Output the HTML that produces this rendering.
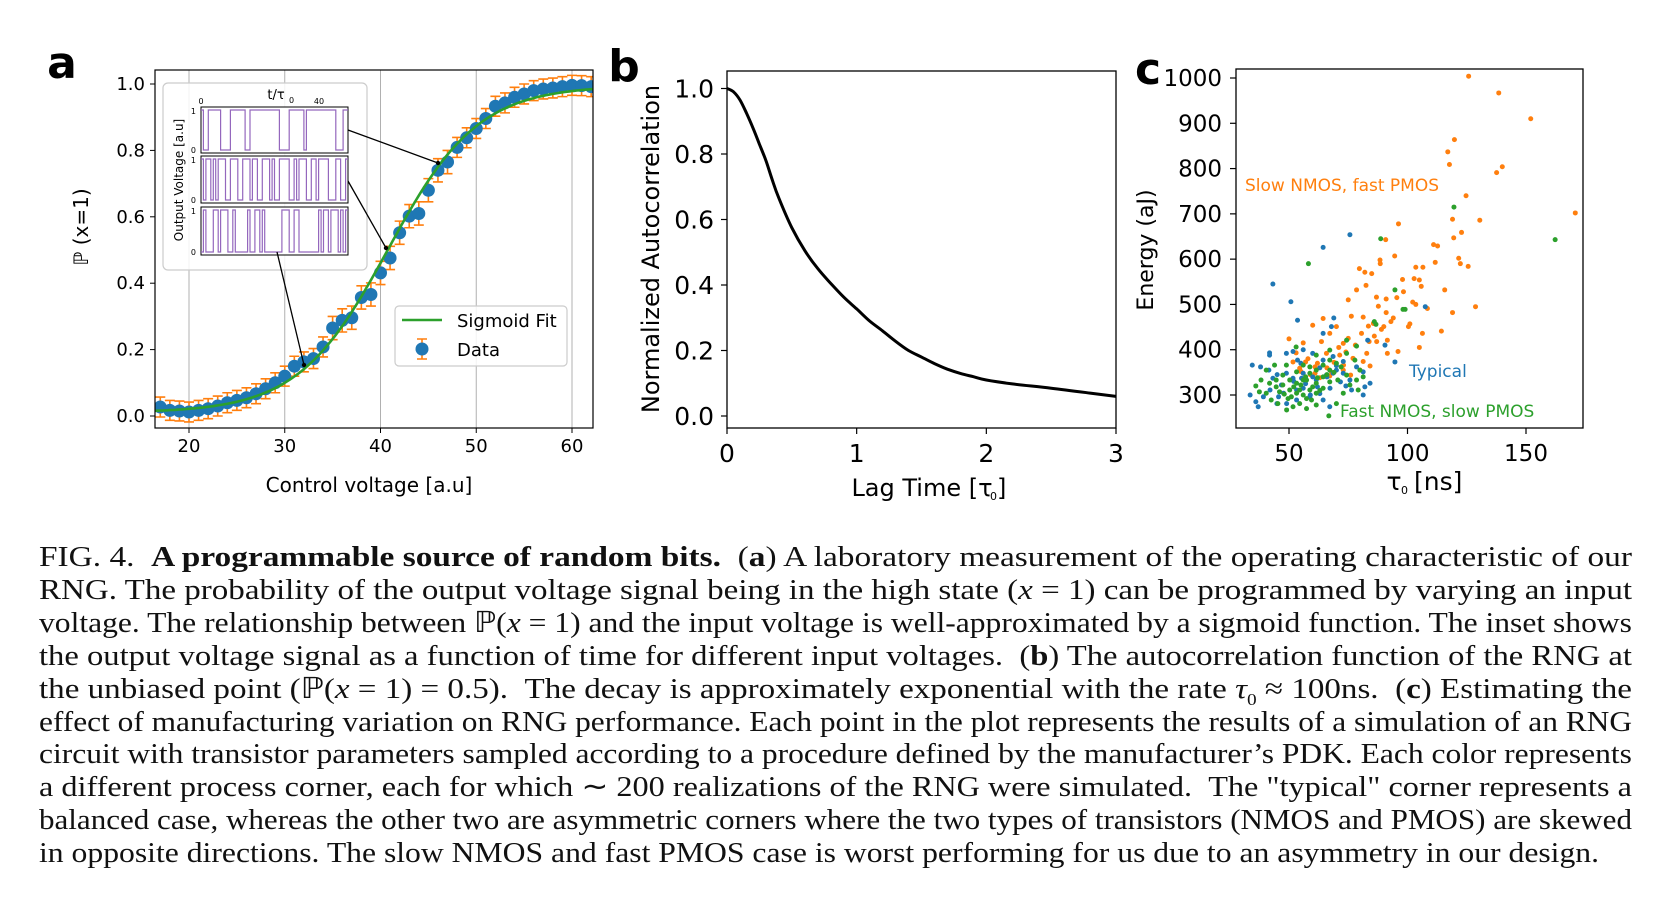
<!DOCTYPE html>
<html><head><meta charset="utf-8">
<style>
html,body{margin:0;padding:0;background:#fff;}
#wrap{position:relative;width:1664px;height:898px;overflow:hidden;background:#fff;}
svg text{font-family:"DejaVu Sans","Liberation Sans",sans-serif;}
.cap{position:absolute;left:39px;font-family:"Liberation Serif",serif;font-size:29px;color:#111;white-space:nowrap;line-height:33px;transform-origin:0 0;}
</style></head>
<body>
<div id="wrap">
<svg id="fig" width="1664" height="898" viewBox="0 0 1664 898" xmlns="http://www.w3.org/2000/svg"></svg>
<div id="caption"></div>
</div>
<script>
// ---------- Panel a data ----------
const aX = [17,18,19,20,21,22,23,24,25,26,27,28,29,30,31,32,33,34,35,36,37,38,39,40,41,42,43,44,45,46,47,48,49,50,51,52,53,54,55,56,57,58,59,60,61,62];
const aY = [0.027,0.017,0.015,0.012,0.017,0.022,0.03,0.04,0.047,0.055,0.067,0.082,0.10,0.12,0.15,0.163,0.173,0.208,0.265,0.288,0.296,0.357,0.366,0.431,0.476,0.552,0.602,0.61,0.68,0.74,0.765,0.809,0.838,0.866,0.896,0.933,0.943,0.96,0.97,0.98,0.985,0.988,0.992,0.996,0.995,0.992];
const aErr = [0.03,0.03,0.03,0.03,0.03,0.03,0.03,0.03,0.03,0.03,0.03,0.03,0.03,0.03,0.03,0.03,0.03,0.03,0.035,0.035,0.035,0.035,0.035,0.035,0.035,0.035,0.035,0.035,0.035,0.035,0.035,0.03,0.03,0.03,0.03,0.03,0.03,0.03,0.03,0.03,0.03,0.03,0.03,0.03,0.03,0.03];
const fitParams = [40.8, 4.7, 0.01, 0.995]; // center, scale, low, high
const aXTicks = [20,30,40,50,60];
const aYTicks = [0.0,0.2,0.4,0.6,0.8,1.0];
const insetBits1 = "100111110000111111001111111111110000111111011111111111100011";
const insetBits2 = "101101011100111001110110011101001111001011100110111100011001";
const insetBits3 = "010001101110010000010011010000000111001100000000101101110101";
// ---------- Panel b data ----------
const bT = [0,0.05,0.1,0.15,0.2,0.25,0.3,0.35,0.4,0.5,0.6,0.7,0.8,0.9,1.0,1.1,1.2,1.3,1.4,1.5,1.6,1.7,1.8,1.9,2.0,2.2,2.5,2.8,3.0];
const bR = [1.0,0.99,0.965,0.925,0.88,0.83,0.78,0.72,0.665,0.575,0.505,0.45,0.405,0.363,0.327,0.29,0.26,0.228,0.2,0.18,0.16,0.143,0.13,0.12,0.11,0.098,0.085,0.07,0.06];
const bXTicks = [0,1,2,3];
const bYTicks = [0.0,0.2,0.4,0.6,0.8,1.0];
// ---------- Panel c data ----------
const orangeTau = [125.8,138.5,152,119.8,117,117.7,140,137.6,124.7,170.8,130.5,119,96.2,122.8,111,112.7,90.8,119.5,94.6,88.4,88.5,103.5,106.5,111.7,121.6,122.3,125.6,79.7,82,84.9,102.8,105,105.8,115.7,97.9,78.5,82.5,75,86.9,91,95.5,98.3,102.2,108.4,128.7,119,103.5,87.7,91,94,76.3,81.3,85.6,101,100.4,106.3,114.3,83.5,90,80.6,83.8,87,91.5,105,91.5,96,70,64.4,60,67.2,63.7,72.9,56,50,53,57,61,72.9,80,76,67.2,61,54.5,51.7,65.8,71.4,77,81.3,84.2,82.8,58,62,66,69,73,55,59,63,68,74,78,86,89,93,71,75];
const orangeE = [1004,967,910,864,837,809,804,791,740,702,686,688,678,659,632,629,643,647,607,598,590,582,582,593,602,590,584,579,571,568,557,554,540,532,555,532,542,510,516,512,515,528,505,491,495,482,500,496,482,470,474,472,458,457,451,436,441,452,451,436,418,418,421,405,392,396,451,469,454,436,418,414,415,424,393,373,362,355,355,344,342,348,359,373,392,388,381,374,364,392,380,370,360,372,366,352,345,338,350,395,410,430,445,462,405,425];
const blueTau = [75.7,64.4,43.2,50.8,53.6,107.5,68.9,67.9,64.4,83.2,90.5,41.8,94.7,34.5,38,41.5,41.8,33.6,36,37,39.2,42,45.6,49,53.2,48.9,51.7,56,60,64.4,68.6,72.9,78.5,81.3,84.2,82,81.3,71.7,67.3,63,58.8,64.4,60,56,51.7,46.8,43.2,68.6,72.9,75.7,56,53.2,47.7,44.9,61.5,65.8,70,76.4,67.2,55.3,48.9,53.6,57,62,66,59,52,45,70,74,63,55];
const blueE = [654,626,545,506,465,495,470,451,436,421,410,393,373,366,362,355,388,300,285,274,296,311,296,281,289,392,396,400,392,377,385,374,362,351,326,318,300,329,315,303,296,289,340,348,337,322,337,348,348,333,315,311,304,281,333,344,355,311,274,337,348,377,325,318,340,300,330,345,365,320,360,370];
const greenTau = [119.6,88.7,162.3,58.2,94.7,98.1,99,86,86.7,78.5,74.3,67.2,61.5,53,48.9,43.9,40.4,38.2,36,37.5,40.4,42.5,45.3,49,51.7,54.5,57.4,61.5,66.8,70,72.9,75.7,79.2,81.3,79.9,77.8,74.3,70,67.2,64.4,61.5,58.8,56,53.2,50.3,47.4,44.6,47.4,50.3,53.2,56,58.8,61.5,64.4,67.2,58.8,56,53.2,54.5,57.4,46,49.6,59.5,67.2,70.6,74.3,78.5,44.6,41.8,57.4,61.5,64.4,52,55,60,63,48,51,57,62,66,69,72];
const greenE = [715,645,643,590,532,489,489,462,456,408,421,399,388,406,366,366,355,333,320,307,304,289,281,267,274,281,270,278,254,281,304,322,311,340,355,377,392,370,355,340,326,311,300,304,311,322,333,344,333,326,333,348,355,366,377,362,366,351,311,292,307,292,289,329,333,344,333,318,326,333,304,315,318,322,318,310,302,296,340,338,345,350,362];
const cXTicks = [50,100,150];
const cYTicks = [300,400,500,600,700,800,900,1000];

const NS = "http://www.w3.org/2000/svg";
const svg = document.getElementById('fig');
function mk(tag, attrs, parent){
  const e = document.createElementNS(NS, tag);
  for (const k in attrs) e.setAttribute(k, attrs[k]);
  (parent||svg).appendChild(e);
  return e;
}
function txt(x,y,s,size,anchor,extra){
  const t = mk('text', Object.assign({x:x,y:y,'font-size':size,'text-anchor':anchor||'middle',fill:'#000'}, extra||{}));
  t.textContent = s;
  return t;
}

// ================= Panel a =================
const A = {l:155,r:593,t:70,b:428};
const axA = v => 189 + (v-20)*(572-189)/40;
const ayA = v => 416 - v*332;
const gA = mk('g',{});


aXTicks.forEach(v=>{
  const gl = mk('line',{x1:axA(v),x2:axA(v),y1:A.t,y2:A.b,stroke:'#b0b0b0','stroke-width':1},gA);
  
  
  mk('line',{x1:axA(v),x2:axA(v),y1:A.b,y2:A.b+5,stroke:'#000','stroke-width':1},gA);
  const t = txt(axA(v),A.b+24,String(v),18,'middle');
  
  
});
aYTicks.forEach(v=>{
  mk('line',{x1:A.l-5,x2:A.l,y1:ayA(v),y2:ayA(v),stroke:'#000','stroke-width':1},gA);
  const t = txt(A.l-10,ayA(v)+6,v.toFixed(1),18,'end');
  
  
});
const defs = mk('defs',{});
const cp = mk('clipPath',{id:'clipA'},defs);
mk('rect',{x:A.l,y:A.t,width:A.r-A.l,height:A.b-A.t},cp);
const plotA = mk('g',{'clip-path':'url(#clipA)'},gA);
aX.forEach((x,i)=>{
  const px = axA(x), y1 = ayA(aY[i]-aErr[i]), y2 = ayA(aY[i]+aErr[i]);
  const eb = mk('path',{d:`M${px},${y1}V${y2}M${px-5},${y1}H${px+5}M${px-5},${y2}H${px+5}`,stroke:'#ff7f0e','stroke-width':1.6,fill:'none'},plotA);
  
  
});
aX.forEach((x,i)=>{
  const c = mk('circle',{cx:axA(x),cy:ayA(aY[i]),r:6.5,fill:'#1f77b4'},plotA);
  
  
});
let fd = '';
for (let x=15; x<=64; x+=0.25){
  const y = fitParams[2] + (fitParams[3]-fitParams[2])/(1+Math.exp(-(x-fitParams[0])/fitParams[1]));
  fd += (fd?'L':'M') + axA(x).toFixed(1)+','+ayA(y).toFixed(1);
}
const fitLine = mk('path',{d:fd,stroke:'#2ca02c','stroke-width':2.6,fill:'none'},plotA);


const frameA = mk('rect',{x:A.l,y:A.t,width:A.r-A.l,height:A.b-A.t,fill:'none',stroke:'#000','stroke-width':1.2},gA);



const inset = mk('g',{},gA);


mk('rect',{x:163,y:83,width:204,height:187,rx:5,fill:'#fff','fill-opacity':0.85,stroke:'#cccccc','stroke-width':1.2},inset);
const rows = [[110,150,insetBits1],[159,200,insetBits2],[210,252,insetBits3]];
const ix0 = 201, ix1 = 348;
rows.forEach(([top,bot,bits])=>{
  mk('rect',{x:ix0,y:top-3,width:ix1-ix0,height:bot-top+6,fill:'#fff',stroke:'#000','stroke-width':1},inset);
  let d='';
  const n = bits.length, w = (ix1-ix0)/n;
  for (let i=0;i<n;i++){
    const y = bits[i]==='1'?top:bot;
    d += (i===0?'M':'L')+(ix0+i*w).toFixed(1)+','+y+'L'+(ix0+(i+1)*w).toFixed(1)+','+y;
  }
  const sp = mk('path',{d:d,stroke:'#9467bd','stroke-width':1.2,fill:'none'},inset);
  
  
  txt(ix0-5,top+4,'1',8,'end');
  txt(ix0-5,bot+3,'0',8,'end');
});
txt(ix0,104,'0',8,'middle');
txt(319,104,'40',8,'middle');
const it = txt(276,99,'t/τ',13,'middle');


txt(289,103,'0',8,'start');
const iyl = txt(0,0,'Output Voltage [a.u]',12,'middle',{transform:'translate(183,180) rotate(-90)'});


[[348,130,438,163],[348,181,386,248],[277,252,304,365]].forEach(c=>{
  mk('line',{x1:c[0],y1:c[1],x2:c[2],y2:c[3],stroke:'#000','stroke-width':1.3},inset);
  mk('circle',{cx:c[2],cy:c[3],r:2.2,fill:'#000'},inset);
});
const leg = mk('g',{},gA);


mk('rect',{x:395,y:306,width:172,height:60,rx:4,fill:'#fff','fill-opacity':0.85,stroke:'#cccccc','stroke-width':1.2},leg);
mk('line',{x1:402,x2:442,y1:320,y2:320,stroke:'#2ca02c','stroke-width':2.6},leg);
const l1 = txt(457,327,'Sigmoid Fit',18,'start');


mk('path',{d:'M422,339V359M417,339H427M417,359H427',stroke:'#ff7f0e','stroke-width':1.6,fill:'none'},leg);
mk('circle',{cx:422,cy:349,r:6.5,fill:'#1f77b4'},leg);
const l2 = txt(457,356,'Data',18,'start');


const axat = txt(369,492,'Control voltage [a.u]',20,'middle');


const ayat = txt(0,0,'ℙ (x=1)',20,'middle',{transform:'translate(88,227) rotate(-90)'});


const la = txt(62,78,'a',44,'middle',{'font-weight':'bold','font-family':'Liberation Sans, sans-serif'});



// ================= Panel b =================
const B = {l:727,r:1116,t:71,b:428};
const axB = v => 727 + v*(1116-727)/3;
const ayB = v => 416 - v*327.5;
const gB = mk('g',{});


bXTicks.forEach(v=>{
  mk('line',{x1:axB(v),x2:axB(v),y1:B.b,y2:B.b+6,stroke:'#000','stroke-width':1.2},gB);
  const t = txt(axB(v),B.b+34,String(v),25,'middle');
  
  
});
bYTicks.forEach(v=>{
  mk('line',{x1:B.l-6,x2:B.l,y1:ayB(v),y2:ayB(v),stroke:'#000','stroke-width':1.2},gB);
  const t = txt(B.l-13,ayB(v)+9,v.toFixed(1),25,'end');
  
  
});
// smooth curve through points (Catmull-Rom)
const bpts = bT.map((t,i)=>[axB(t),ayB(bR[i])]);
let bd = 'M'+bpts[0][0].toFixed(1)+','+bpts[0][1].toFixed(1);
for (let i=0;i<bpts.length-1;i++){
  const p0=bpts[Math.max(0,i-1)], p1=bpts[i], p2=bpts[i+1], p3=bpts[Math.min(bpts.length-1,i+2)];
  const c1=[p1[0]+(p2[0]-p0[0])/6, p1[1]+(p2[1]-p0[1])/6];
  const c2=[p2[0]-(p3[0]-p1[0])/6, p2[1]-(p3[1]-p1[1])/6];
  bd += `C${c1[0].toFixed(1)},${c1[1].toFixed(1)} ${c2[0].toFixed(1)},${c2[1].toFixed(1)} ${p2[0].toFixed(1)},${p2[1].toFixed(1)}`;
}
const bl = mk('path',{d:bd,stroke:'#000','stroke-width':3,fill:'none','stroke-linejoin':'round'},gB);


mk('rect',{x:B.l,y:B.t,width:B.r-B.l,height:B.b-B.t,fill:'none',stroke:'#000','stroke-width':1.3},gB);
const bxt = txt(922,496,'Lag Time [τ',24,'middle');


txt(990,500,'0',11,'start');
txt(997,496,']',24,'start');
const byt = txt(0,0,'Normalized Autocorrelation',24,'middle',{transform:'translate(659,249) rotate(-90)'});


const lb = txt(624,81,'b',44,'middle',{'font-weight':'bold','font-family':'Liberation Sans, sans-serif'});



// ================= Panel c =================
const C = {l:1236,r:1583,t:69,b:428};
const axC = v => 1289 + (v-50)*(1526-1289)/100;
const ayC = v => 395 - (v-300)*(395-78)/700;
const gC = mk('g',{});


cXTicks.forEach(v=>{
  mk('line',{x1:axC(v),x2:axC(v),y1:C.b,y2:C.b+6,stroke:'#000','stroke-width':1.2},gC);
  const t = txt(axC(v),C.b+33,String(v),23,'middle');
  
  
});
cYTicks.forEach(v=>{
  mk('line',{x1:C.l-6,x2:C.l,y1:ayC(v),y2:ayC(v),stroke:'#000','stroke-width':1.2},gC);
  const t = txt(C.l-14,ayC(v)+8,String(v),23,'end');
  
  
});
function scatter(xs,ys,color,name){
  const g = mk('g',{},gC);
  
  
  xs.forEach((x,i)=>{
    const c = mk('circle',{cx:axC(x),cy:ayC(ys[i]),r:2.5,fill:color},g);
    
    
  });
}
scatter(orangeTau,orangeE,'#ff7f0e','series-slow-nmos-fast-pmos');
scatter(blueTau,blueE,'#1f77b4','series-typical');
scatter(greenTau,greenE,'#2ca02c','series-fast-nmos-slow-pmos');
mk('rect',{x:C.l,y:C.t,width:C.r-C.l,height:C.b-C.t,fill:'none',stroke:'#000','stroke-width':1.3},gC);
const o1 = txt(1245,191,'Slow NMOS, fast PMOS',17,'start',{fill:'#ff7f0e'});


const o2 = txt(1409,377,'Typical',17,'start',{fill:'#1f77b4'});


const o3 = txt(1340,417,'Fast NMOS, slow PMOS',17,'start',{fill:'#2ca02c'});


const cxt = txt(1394,490,'τ',25,'middle');


txt(1401,494,'0',11,'start');
txt(1414,490,'[ns]',25,'start');
const cyt = txt(0,0,'Energy (aJ)',22,'middle',{transform:'translate(1153,250) rotate(-90)'});


const lc = txt(1148,84,'c',44,'middle',{'font-weight':'bold','font-family':'Liberation Sans, sans-serif'});



// ================= Caption =================
const capLines = [
 'FIG. 4. &nbsp;<b>A programmable source of random bits.</b> &nbsp;(<b>a</b>) A laboratory measurement of the operating characteristic of our',
 'RNG. The probability of the output voltage signal being in the high state (<i>x</i> = 1) can be programmed by varying an input',
 'voltage. The relationship between ℙ(<i>x</i> = 1) and the input voltage is well-approximated by a sigmoid function. The inset shows',
 'the output voltage signal as a function of time for different input voltages. &nbsp;(<b>b</b>) The autocorrelation function of the RNG at',
 'the unbiased point (ℙ(<i>x</i> = 1) = 0.5). &nbsp;The decay is approximately exponential with the rate <i>τ</i><sub style="font-size:17px">0</sub> ≈ 100ns. &nbsp;(<b>c</b>) Estimating the',
 'effect of manufacturing variation on RNG performance. Each point in the plot represents the results of a simulation of an RNG',
 'circuit with transistor parameters sampled according to a procedure defined by the manufacturer’s PDK. Each color represents',
 'a different process corner, each for which ∼ 200 realizations of the RNG were simulated. &nbsp;The "typical" corner represents a',
 'balanced case, whereas the other two are asymmetric corners where the two types of transistors (NMOS and PMOS) are skewed',
 'in opposite directions. The slow NMOS and fast PMOS case is worst performing for us due to an asymmetry in our design.'
];
const capDiv = document.getElementById('caption');
capLines.forEach((s,i)=>{
  const d = document.createElement('div');
  d.className = 'cap';
  d.style.top = (541 + i*32.9) + 'px';
  d.innerHTML = s;
  
  
  capDiv.appendChild(d);
  const target = (i===capLines.length-1) ? 1560 : 1593;
  const w = d.getBoundingClientRect().width;
  if (w > 0) d.style.transform = 'scaleX(' + (target/w).toFixed(4) + ')';
});
</script>
</body></html>
